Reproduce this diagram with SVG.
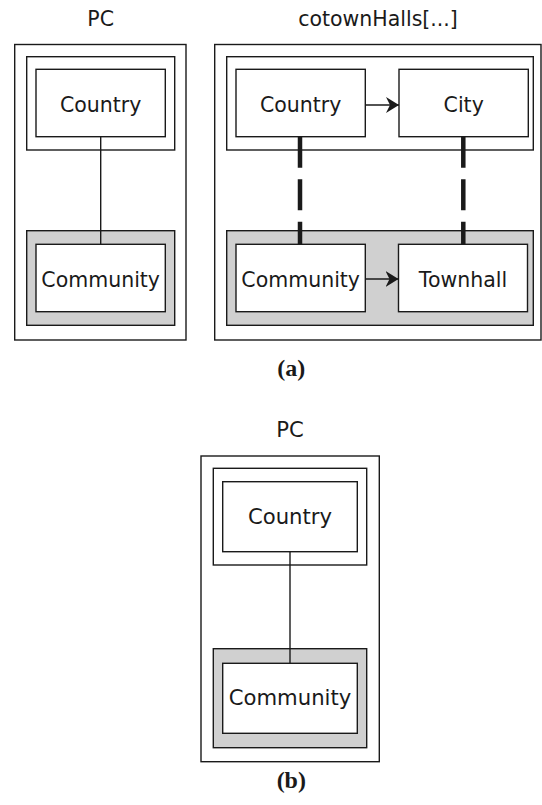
<svg xmlns="http://www.w3.org/2000/svg" width="542" height="805" viewBox="0 0 542 805">
  <defs>
    <style>
      .frame { fill: #ffffff; stroke: #1a1a1a; stroke-width: 1.4; }
      .shade { fill: #d0d0d0; stroke: #1a1a1a; stroke-width: 1.4; }
      .node { fill: #ffffff; stroke: #1a1a1a; stroke-width: 1.4; }
      .lbl { font-family: "DejaVu Sans", sans-serif; font-size: 20.5px; fill: #1a1a1a; text-anchor: middle; }
      .lblb { font-family: "DejaVu Sans", sans-serif; font-size: 21.2px; fill: #1a1a1a; text-anchor: middle; }
      .cap { font-family: "Liberation Serif", "Times New Roman", serif; font-weight: bold; font-size: 24px; fill: #1a1a1a; text-anchor: middle; }
      .edge { stroke: #1a1a1a; stroke-width: 1.4; fill: none; }
      .map { stroke: #1a1a1a; stroke-width: 4.5; fill: none; stroke-dasharray: 31 11.5; }
    </style>
    <marker id="head" markerWidth="14" markerHeight="18" viewBox="0 0 14 18" refX="13" refY="8" orient="auto" markerUnits="userSpaceOnUse">
      <path d="M0,0 L13,8 L0,16 L4,8 Z" fill="#1a1a1a"/>
    </marker>
  </defs>

  <!-- (a) left: PC -->
  <g id="pc-a">
    <text class="lbl" x="100.7" y="26">PC</text>
    <rect class="frame" x="14.7" y="44.5" width="171.3" height="295.5"/>
    <rect class="frame" x="26.7" y="56.7" width="148" height="93.3"/>
    <rect class="shade" x="26.7" y="230.7" width="148" height="94.6"/>
  </g>
  <g id="pc-a-country">
    <rect class="node" x="36" y="69.3" width="129.3" height="67.4"/>
    <text class="lbl" x="100.7" y="111.5">Country</text>
  </g>
  <g id="pc-a-community">
    <rect class="node" x="36" y="244.3" width="129.3" height="67.4"/>
    <text class="lbl" x="100.7" y="286.5">Community</text>
  </g>

  <!-- (a) right: cotownHalls[...] -->
  <g id="cotown">
    <text class="lbl" x="378" y="26">cotownHalls[...]</text>
    <rect class="frame" x="214.7" y="44.5" width="326.3" height="295.5"/>
    <rect class="frame" x="226.7" y="56.7" width="306.6" height="93.3"/>
    <rect class="shade" x="226.7" y="230.7" width="306.6" height="94.6"/>
  </g>
  <g id="cotown-country">
    <rect class="node" x="236" y="69.3" width="129.3" height="67.4"/>
    <text class="lbl" x="300.7" y="111.5">Country</text>
  </g>
  <g id="cotown-city">
    <rect class="node" x="399" y="69.3" width="129.3" height="67.4"/>
    <text class="lbl" x="463.7" y="111.5">City</text>
  </g>
  <g id="cotown-community">
    <rect class="node" x="236" y="244.3" width="129.3" height="67.4"/>
    <text class="lbl" x="300.7" y="286.5">Community</text>
  </g>
  <g id="cotown-townhall">
    <rect class="node" x="398.5" y="244.3" width="129" height="67.4"/>
    <text class="lbl" x="463" y="286.5">Townhall</text>
  </g>

  <text class="cap" x="291.3" y="376">(a)</text>

  <!-- (b): PC -->
  <g id="pc-b">
    <text class="lblb" x="290" y="437">PC</text>
    <rect class="frame" x="201" y="456" width="178.3" height="305.7"/>
    <rect class="frame" x="213.3" y="468.3" width="153.4" height="96.7"/>
    <rect class="shade" x="213.3" y="648.7" width="153.4" height="99"/>
  </g>
  <g id="pc-b-country">
    <rect class="node" x="222.7" y="481.7" width="134.6" height="70"/>
    <text class="lblb" x="290" y="523.5">Country</text>
  </g>
  <g id="pc-b-community">
    <rect class="node" x="222.7" y="663.3" width="134.6" height="70"/>
    <text class="lblb" x="290" y="705">Community</text>
  </g>

  <text class="cap" x="291.3" y="788">(b)</text>

  <!-- connectors -->
  <g id="connectors">
    <line class="edge" x1="100.7" y1="136.7" x2="100.7" y2="244.3"/>
    <line class="edge" x1="290" y1="551.7" x2="290" y2="663.3"/>
    <line class="edge" x1="365.3" y1="105" x2="399" y2="105" marker-end="url(#head)"/>
    <line class="edge" x1="365.3" y1="279" x2="398.5" y2="279" marker-end="url(#head)"/>
    <line class="map" x1="300" y1="136.7" x2="300" y2="244.3"/>
    <line class="map" x1="463.3" y1="136.7" x2="463.3" y2="244.3"/>
  </g>
</svg>
